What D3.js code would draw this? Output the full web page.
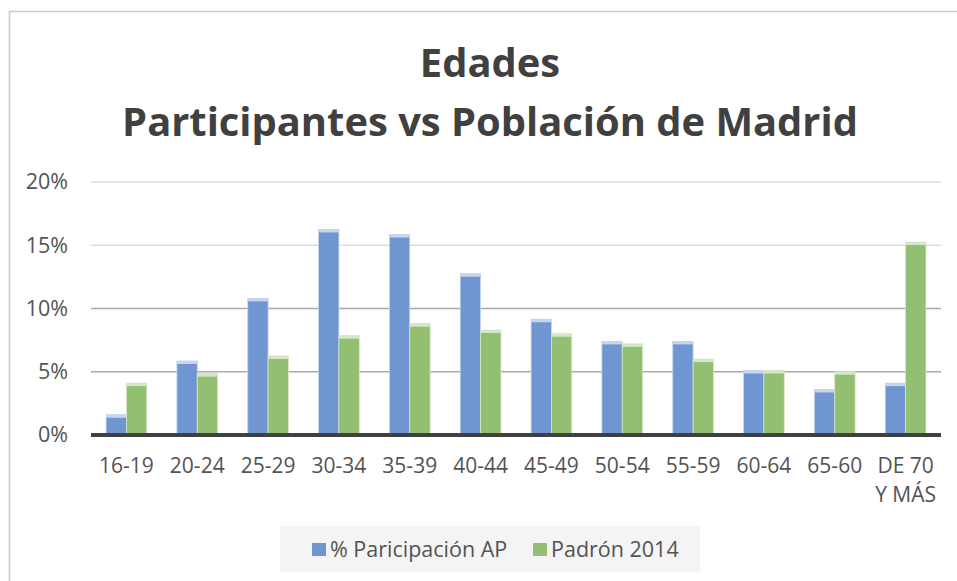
<!DOCTYPE html>
<html>
<head>
<meta charset="utf-8">
<script src="https://cdn.jsdelivr.net/npm/d3@7"></script>
<style>
  body { margin: 0; background: #fff; }
  svg { display: block; font-family: "Open Sans", sans-serif; }
</style>
</head>
<body>
<svg id="chart" width="957" height="581"></svg>
<script>
// data
var categories = ['16-19','20-24','25-29','30-34','35-39','40-44','45-49','50-54','55-59','60-64','65-60','DE 70|Y MÁS'];
var participacion = [1.6, 5.85, 10.8, 16.25, 15.85, 12.75, 9.15, 7.4, 7.4, 5.1, 3.6, 4.1];
var padron = [4.1, 4.85, 6.25, 7.85, 8.8, 8.3, 8.0, 7.2, 6.0, 5.1, 5.0, 15.25];
var seriesNames = ['% Paricipación AP', 'Padrón 2014'];
var yTicks = [0, 5, 10, 15, 20];

var colors = ['#7096d2', '#93bf72'];
var capColors = ['#c7d5ef', '#d5e7c8'];
var textColor = '#535353';

var svg = d3.select('#chart');

// frame
svg.append('rect')
	.attr('x', 9.5).attr('y', 11.5)
	.attr('width', 960).attr('height', 600)
	.attr('fill', '#fff')
	.attr('stroke', '#c9c9c9')
	.attr('stroke-width', 1.5);

var x = d3.scaleBand()
		.domain(categories)
		.range([91, 941]);

var xSeries = d3.scaleBand()
		.domain(seriesNames)
		.range([0, x.bandwidth()])
		.paddingOuter(0.74);

var y = d3.scaleLinear()
		.domain([0, 20])
		.range([435, 182]);

// grid
svg.append('g').selectAll('line')
	.data(yTicks.filter(d => d > 0))
	.enter()
	.append('line')
	.attr('x1', 91).attr('x2', 941)
	.attr('y1', d => y(d)).attr('y2', d => y(d))
	.attr('stroke', d => d >= 15 ? '#dcdcdc' : '#a9a9a9')
	.attr('stroke-width', 1.3);

// y labels
var yAxis = d3.axisLeft(y)
		.tickValues(yTicks)
		.tickFormat(d => d + '%')
		.tickSize(0)
		.tickPadding(0);

var yG = svg.append('g')
		.attr('transform', 'translate(68,0)')
		.call(yAxis);
yG.select('.domain').remove();
yG.selectAll('text')
	.attr('font-family', '"Open Sans", sans-serif')
	.attr('font-size', 21.5)
	.attr('fill', textColor);

// bars
var data = categories.map((c, i) => ({cat: c, vals: [participacion[i], padron[i]]}));

var groups = svg.append('g').selectAll('g')
		.data(data)
		.enter()
		.append('g')
		.attr('transform', d => 'translate(' + x(d.cat) + ',0)');

var bars = groups.selectAll('g')
		.data(d => d.vals.map((v, k) => ({v: v, k: k})))
		.enter()
		.append('g');

bars.append('rect')
	.attr('x', d => xSeries(seriesNames[d.k]))
	.attr('width', xSeries.bandwidth())
	.attr('y', d => y(d.v))
	.attr('height', d => y(0) - y(d.v))
	.attr('fill', d => colors[d.k])
	.attr('stroke', d => capColors[d.k])
	.attr('stroke-width', 0.8);

bars.append('rect')
	.attr('x', d => xSeries(seriesNames[d.k]))
	.attr('width', xSeries.bandwidth())
	.attr('y', d => y(d.v))
	.attr('height', 3)
	.attr('fill', d => capColors[d.k]);

// baseline
svg.append('line')
	.attr('x1', 91).attr('x2', 941)
	.attr('y1', y(0)).attr('y2', y(0))
	.attr('stroke', '#404040')
	.attr('stroke-width', 4);

// x labels
var xAxis = d3.axisBottom(x).tickSize(0).tickPadding(0).tickFormat('');
var xG = svg.append('g')
		.call(xAxis);
xG.select('.domain').remove();
xG.selectAll('.tick').each(function(d) {
	var lines = d.split('|');
	var t = d3.select(this).append('text')
			.attr('text-anchor', 'middle')
			.attr('font-family', '"Open Sans", sans-serif')
			.attr('font-size', 21)
			.attr('fill', textColor);
	lines.forEach((l, i) => {
		t.append('tspan').attr('x', 0).attr('y', 473 + i * 29).text(l);
	});
});

// title
var titleLines = ['Edades', 'Participantes vs Población de Madrid'];
var title = svg.append('g')
		.attr('font-family', '"Open Sans", sans-serif')
		.attr('font-weight', 'bold')
		.attr('fill', '#404040')
		.attr('text-anchor', 'middle');
title.selectAll('text')
	.data(titleLines)
	.enter()
	.append('text')
	.attr('x', 490)
	.attr('y', (d, i) => 77 + i * 59)
	.attr('font-size', 42)
	.text(d => d);
// fit second line to the width seen in the picture
var t2 = title.selectAll('text').filter((d, i) => i === 1).node();
var fs = 42 * 736 / t2.getComputedTextLength();
title.selectAll('text').attr('font-size', fs);

// legend
var legend = svg.append('g');
legend.append('rect')
	.attr('x', 280).attr('y', 526)
	.attr('width', 420).attr('height', 46)
	.attr('fill', '#f4f4f4');

var legendX = [312, 533];
var items = legend.selectAll('g.item')
		.data(seriesNames)
		.enter()
		.append('g')
		.attr('class', 'item')
		.attr('transform', (d, i) => 'translate(' + legendX[i] + ',0)');
items.append('rect')
	.attr('x', 0).attr('y', 543)
	.attr('width', 14).attr('height', 13)
	.attr('fill', (d, i) => colors[i]);
items.append('text')
	.attr('x', 18).attr('y', 557)
	.attr('font-size', 21.5)
	.attr('fill', textColor)
	.text(d => d);
</script>
</body>
</html>
